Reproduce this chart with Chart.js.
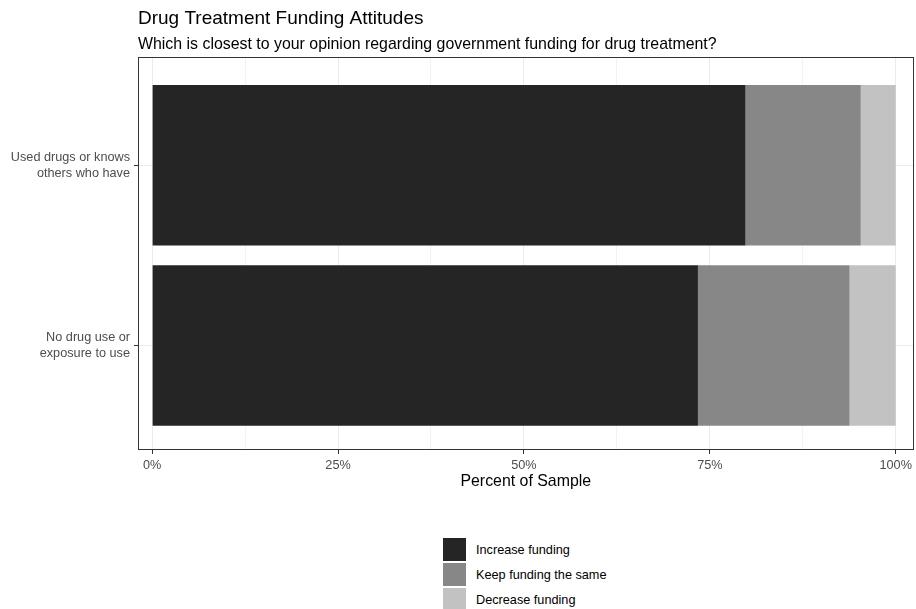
<!DOCTYPE html>
<html>
<head>
<meta charset="utf-8">
<script src="https://cdn.jsdelivr.net/npm/chart.js@4"></script>
<style>
  body { margin: 0; background: #fff; font-family: "Liberation Sans", Arial, sans-serif; }
  #wrap { position: relative; width: 916px; height: 609px; overflow: hidden; }
  #box { position: absolute; left: 0; top: 0; width: 916px; height: 500px; }
  #legend { position: absolute; left: 443px; top: 537px; }
  .item { height: 25px; display: flex; align-items: center; font-size: 12.7px; color: #000; }
  .key { width: 23px; height: 23px; margin-right: 10px; }
</style>
</head>
<body>
<div id="wrap">
  <div id="box"><canvas id="chart"></canvas></div>
  <div id="legend"></div>
</div>
<script>
// categories (top to bottom)
var categories = [["Used drugs or knows", "others who have"], ["No drug use or", "exposure to use"]];
// series, percent of sample
var seriesNames = ["Increase funding", "Keep funding the same", "Decrease funding"];
var increase = [79.8, 73.4];
var keepSame = [15.5, 20.4];
var decrease = [4.7, 6.2];
var xTicks = [0, 25, 50, 75, 100];
var xMinor = [12.5, 37.5, 62.5, 87.5];

var fills = ["#252525", "#878787", "#c2c2c2"];
var font = "'Liberation Sans', Arial, sans-serif";

function toPoints(vals) {
  return vals.map(function (v, i) { return { x: v, y: i }; });
}

// titles and the panel frame
var frame = {
  id: 'frame',
  afterDraw: function (chart) {
    var ctx = chart.ctx, a = chart.chartArea;
    ctx.save();
    ctx.strokeStyle = '#333333';
    ctx.lineWidth = 1;
    ctx.strokeRect(Math.round(a.left) + 0.5, Math.round(a.top) + 0.5,
      Math.round(a.right - a.left) - 1, Math.round(a.bottom - a.top) - 1);
    ctx.fillStyle = '#000';
    ctx.textBaseline = 'alphabetic';
    ctx.textAlign = 'left';
    ctx.font = "19px " + font;
    ctx.fillText("Drug Treatment Funding Attitudes", a.left, 24);
    ctx.font = "15.9px " + font;
    ctx.fillText("Which is closest to your opinion regarding government funding for drug treatment?", a.left, 49);
    ctx.restore();
  }
};

var ctx = document.getElementById('chart').getContext('2d');
var chart = new Chart(ctx, {
  type: 'bar',
  data: {
    datasets: [
      { label: seriesNames[0], data: toPoints(increase), backgroundColor: fills[0] },
      { label: seriesNames[1], data: toPoints(keepSame), backgroundColor: fills[1] },
      { label: seriesNames[2], data: toPoints(decrease), backgroundColor: fills[2] }
    ]
  },
  options: {
    indexAxis: 'y',
    responsive: true,
    maintainAspectRatio: false,
    animation: false,
    categoryPercentage: 1,
    barPercentage: 0.89,
    layout: { padding: { top: 57, right: 2, left: 0, bottom: 0 } },
    plugins: {
      legend: { display: false },
      tooltip: { enabled: false }
    },
    scales: {
      x: {
        type: 'linear',
        stacked: true,
        min: -1.9,
        max: 102.4,
        afterBuildTicks: function (s) {
          s.ticks = xTicks.concat(xMinor).sort(function (a, b) { return a - b; })
            .map(function (v) { return { value: v }; });
        },
        afterFit: function (s) { s.height = 50; },
        border: { display: false },
        grid: {
          color: function (c) { return xTicks.indexOf(c.tick.value) >= 0 ? '#ebebeb' : '#f2f2f2'; },
          lineWidth: 1,
          tickLength: 4,
          tickColor: function (c) { return xTicks.indexOf(c.tick.value) >= 0 ? '#333333' : 'rgba(0,0,0,0)'; }
        },
        ticks: {
          autoSkip: false,
          maxRotation: 0,
          padding: 4,
          color: '#4d4d4d',
          font: { family: font, size: 12.7 },
          callback: function (v) { return xTicks.indexOf(v) >= 0 ? v + '%' : ''; }
        },
        title: {
          display: true,
          text: 'Percent of Sample',
          color: '#000',
          font: { family: font, size: 15.9 },
          padding: { top: 0, bottom: 9 }
        }
      },
      y: {
        type: 'linear',
        stacked: true,
        reverse: true,
        offset: false,
        min: -0.6,
        max: 1.58,
        afterBuildTicks: function (s) {
          s.ticks = categories.map(function (c, i) { return { value: i }; });
        },
        afterFit: function (s) { s.width = 138; },
        border: { display: false },
        grid: { offset: false, color: '#ebebeb', lineWidth: 1, tickLength: 4, tickColor: '#333333' },
        ticks: {
          padding: 4,
          color: '#4d4d4d',
          font: { family: font, size: 12.7, lineHeight: 1.25 },
          callback: function (v) { return categories[v]; }
        }
      }
    }
  },
  plugins: [frame]
});

// legend
var lg = document.getElementById('legend');
seriesNames.forEach(function (name, i) {
  var row = document.createElement('div');
  row.className = 'item';
  var key = document.createElement('div');
  key.className = 'key';
  key.style.background = fills[i];
  var txt = document.createElement('span');
  txt.textContent = name;
  row.appendChild(key);
  row.appendChild(txt);
  lg.appendChild(row);
});
</script>
</body>
</html>
